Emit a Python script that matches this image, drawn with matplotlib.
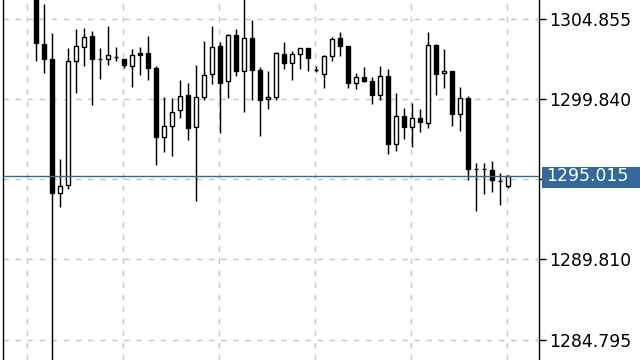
import matplotlib
matplotlib.use('Agg')
import matplotlib.pyplot as plt
import numpy as np
from matplotlib.patches import Rectangle
from matplotlib.transforms import blended_transform_factory

opens = [1306.60, 1303.32, 1302.36, 1294.00, 1294.46, 1302.27, 1303.15, 1303.82, 1302.36, 1302.36,
         1302.52, 1302.36, 1301.92, 1302.76, 1302.76, 1301.80, 1297.47, 1298.16, 1299.16, 1300.10,
         1298.10, 1300.02, 1301.42, 1303.18, 1300.98, 1303.87, 1301.61, 1303.68, 1301.67, 1299.85,
         1300.02, 1302.67, 1302.11, 1302.67, 1303.05, 1301.71, 1301.42, 1302.55, 1303.68, 1303.18,
         1300.86, 1301.23, 1300.98, 1300.14, 1301.29, 1297.07, 1298.79, 1298.14, 1298.66, 1298.39,
         1303.24, 1301.48, 1301.61, 1298.91, 1299.92, 1295.46, 1295.46, 1295.40, 1294.71, 1294.40]
highs = [1307.00, 1305.83, 1303.99, 1296.09, 1303.05, 1304.24, 1304.30, 1304.15, 1303.05, 1304.45,
         1303.11, 1302.36, 1302.99, 1303.11, 1303.82, 1301.94, 1299.98, 1299.92, 1301.04, 1300.86,
         1301.98, 1303.51, 1304.45, 1303.43, 1303.95, 1304.24, 1306.50, 1304.81, 1301.86, 1301.61,
         1302.82, 1303.43, 1302.86, 1303.05, 1303.05, 1301.92, 1302.61, 1303.76, 1304.05, 1303.18,
         1301.48, 1301.86, 1301.23, 1301.92, 1301.73, 1300.23, 1299.29, 1299.60, 1299.23, 1304.05,
         1303.30, 1302.99, 1301.61, 1300.61, 1300.04, 1295.84, 1295.84, 1295.97, 1295.21, 1295.09]
lows = [1302.27, 1301.48, 1282.90, 1293.08, 1294.25, 1300.27, 1301.96, 1299.51, 1301.14, 1302.02,
        1302.24, 1301.80, 1300.64, 1301.40, 1301.06, 1295.75, 1296.57, 1296.32, 1298.66, 1297.32,
        1293.50, 1299.83, 1300.83, 1297.76, 1299.95, 1301.29, 1299.08, 1299.83, 1297.57, 1299.26,
        1299.83, 1301.73, 1301.08, 1301.73, 1301.65, 1301.55, 1300.58, 1302.27, 1302.55, 1300.58,
        1300.52, 1300.96, 1299.58, 1299.83, 1296.44, 1296.63, 1297.38, 1296.88, 1297.82, 1298.07,
        1300.14, 1300.58, 1298.20, 1297.88, 1294.81, 1292.83, 1293.94, 1294.06, 1293.25, 1294.31]
closes = [1303.40, 1302.40, 1294.00, 1294.40, 1302.24, 1303.18, 1303.74, 1302.40, 1302.36, 1302.61,
          1302.52, 1301.98, 1302.61, 1302.65, 1301.83, 1297.51, 1298.16, 1299.04, 1300.04, 1298.07,
          1299.98, 1301.36, 1303.11, 1300.89, 1303.87, 1301.61, 1303.68, 1301.71, 1299.79, 1299.98,
          1302.76, 1302.11, 1302.67, 1303.05, 1302.42, 1301.71, 1302.55, 1303.61, 1303.18, 1300.86,
          1301.23, 1301.02, 1300.14, 1301.29, 1297.07, 1298.79, 1298.14, 1298.66, 1298.41, 1303.24,
          1301.46, 1301.61, 1298.95, 1299.92, 1295.50, 1295.46, 1295.46, 1294.81, 1294.71, 1295.015]

tick_values = [1304.855, 1299.840, 1294.825, 1289.810, 1284.795]
tick_labels = ['1304.855', '1299.840', '', '1289.810', '1284.795']
last_price = 1295.015

blue = '#35689a'

o = np.array(opens)
h = np.array(highs)
l = np.array(lows)
c = np.array(closes)
x = np.arange(len(o))
up = c >= o

fig = plt.figure(figsize=(6.4, 3.6), dpi=100)
ax = fig.add_axes([3 / 640, 0, 536 / 640, 1])

# wicks then bodies on top
ax.vlines(x, l, h, color='black', linewidth=1.05, zorder=2)
ax.bar(x, np.abs(c - o), 0.55, bottom=np.minimum(o, c),
       color=np.where(up, 'white', 'black'), edgecolor='black',
       linewidth=1.0, zorder=3)

ax.axhline(last_price, color=blue, linewidth=1.0, zorder=4)

ax.set_xlim(-4.125, 62.875)
ax.set_ylim(1283.51, 1306.077)

ax.set_xticks(np.arange(-1.1, 60, 12))
ax.tick_params(axis='x', length=0, labelbottom=False)
ax.yaxis.tick_right()
ax.set_yticks(tick_values, tick_labels)
ax.tick_params(axis='y', length=5, width=1, pad=2, labelsize=12.4, colors='black')
ax.grid(True, color='#c6c6c6', linestyle=(0, (4, 4.7)), linewidth=1.0)
ax.set_axisbelow(True)

ax.spines['top'].set_visible(False)
ax.spines['bottom'].set_visible(False)
ax.spines['left'].set_linewidth(1.0)
ax.spines['right'].set_linewidth(1.0)

# current price label box
fig.add_artist(Rectangle((542 / 640, (360 - 187.7) / 360), (640 - 542) / 640, 21 / 360,
                         transform=fig.transFigure, facecolor=blue, edgecolor='none'))
trans = blended_transform_factory(fig.transFigure, ax.transData)
fig.text(546 / 640, last_price, f'{last_price:.3f}', transform=trans, color='white',
         fontsize=12.4, va='center', ha='left')

fig.savefig('out.png', dpi=100)
